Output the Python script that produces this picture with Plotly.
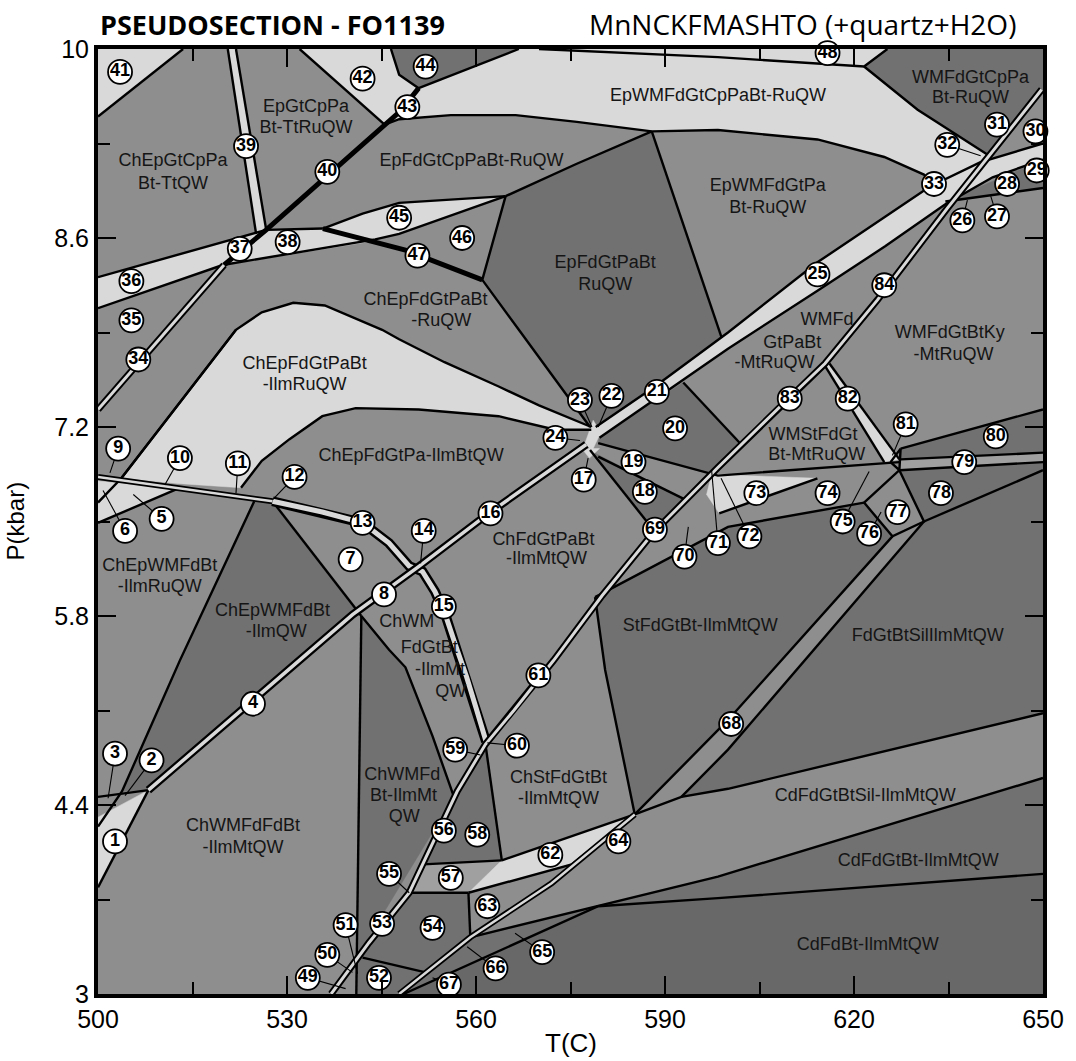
import plotly.graph_objects as go

# ---------------- colours ----------------
LIGHT = "#d9d9d9"
MID = "#8e8e8e"
MID2 = "#a0a0a0"
DARK = "#717171"
DARKER = "#686868"
INK = "#151515"

# ---------------- axes ----------------
x_ticks = [500, 530, 560, 590, 620, 650]
x_minor = [515, 545, 575, 605, 635]
y_ticks = [3.0, 4.4, 5.8, 7.2, 8.6, 10.0]
y_ticktext = ["3", "4.4", "5.8", "7.2", "8.6", "10"]
y_minor = [3.7, 5.1, 6.5, 7.9, 9.3]

# ---------------- dark fields (T, P) ----------------
dark_44 = ([546.5, 566.8, 550.9, 547.8], [10.0, 10.0, 9.71, 9.81])
dark_wmfdgtcppa = ([625.3, 650.0, 650.0, 641.1, 630.1, 621.6], [10.0, 10.0, 9.70, 9.22, 9.55, 9.87])
dark_epfdgtpabt = ([561.0, 564.7, 576.0, 587.9, 599.0, 588.4, 579.0, 578.1], [8.29, 8.91, 9.15, 9.39, 7.86, 7.50, 7.20, 7.20])
dark_chepwmfdbt = ([524.8, 527.7, 541.8, 540.4, 508.0, 503.8], [6.65, 6.65, 5.80, 5.81, 4.51, 4.50])
dark_chwmfd = ([541.8, 546.2, 548.8, 553.1, 556.5, 541.3], [5.80, 5.55, 5.42, 4.91, 4.46, 3.29])
dark_52_54 = ([541.3, 549.4, 558.8, 559.1, 547.8, 541.0], [3.29, 3.75, 3.75, 3.42, 3.0, 3.0])
dark_58 = ([561.5, 564.1, 551.6, 553.1, 557.0], [4.85, 3.99, 3.96, 4.12, 4.50])
dark_20 = ([579.6, 592.9, 602.1, 597.4, 579.4], [7.13, 7.53, 7.07, 6.85, 7.08])
dark_18 = ([578.3, 593.3, 588.3], [7.02, 6.66, 6.43])
dark_stfd = ([578.9, 600.0, 621.6, 626.1, 631.1, 650.0, 650.0, 600.0, 592.6, 585.2, 580.5],
             [5.94, 6.46, 6.64, 6.39, 6.50, 6.88, 5.08, 4.52, 4.46, 4.33, 5.40])
dark_cdfdgtbt = ([547.8, 559.1, 598.4, 650.0, 650.0, 598.4, 579.4, 548.5], [3.0, 3.42, 3.87, 4.60, 3.89, 3.71, 3.65, 3.0])
darker_cdfdbt = ([548.5, 579.4, 598.4, 650.0, 650.0], [3.0, 3.65, 3.71, 3.89, 3.0])
dark_78 = ([627.2, 650.0, 650.0, 631.1], [6.88, 6.94, 6.88, 6.50])
dark_80 = ([627.4, 650.0, 650.0, 627.4], [7.04, 7.33, 7.01, 6.96])
dark_2628 = ([634.5, 650.0, 650.0], [8.87, 8.97, 9.18])

# ---------------- mid fields over dark ----------------
mid_68 = ([585.2, 600.0, 626.1, 631.1, 600.0, 592.6], [4.33, 5.03, 6.39, 6.50, 4.81, 4.46])
mid2_79 = ([627.2, 650.0, 650.0, 627.4], [6.88, 6.94, 7.01, 6.96])
mid2_57 = ([549.4, 551.6, 564.1, 558.8], [3.75, 3.96, 3.99, 3.75])

# ---------------- light fields ----------------
light_41 = ([500.0, 500.0, 513.5], [9.50, 10.0, 10.0])
light_42 = ([532.0, 545.5, 548.0, 550.9, 547.8, 546.5], [10.0, 9.44, 9.54, 9.71, 9.81, 10.0])
light_39 = ([520.6, 521.9, 526.7, 525.1], [10.0, 10.0, 8.66, 8.63])
light_top = ([545.5, 548.0, 550.9, 566.8, 625.3, 621.6, 630.1, 641.1, 634.0, 631.1, 624.8, 614.2, 598.4, 587.9, 576.0, 566.3, 556.0, 547.8],
             [9.44, 9.54, 9.71, 10.0, 10.0, 9.87, 9.55, 9.22, 8.90, 9.07, 9.20, 9.33, 9.40, 9.39, 9.46, 9.51, 9.51, 9.48])
light_38 = ([500.0, 526.7, 535.7, 544.0, 519.8, 500.0], [8.31, 8.66, 8.67, 8.58, 8.40, 8.08])
light_45 = ([535.7, 542.0, 547.8, 564.7, 547.8, 544.0], [8.67, 8.78, 8.86, 8.91, 8.63, 8.59])
big_top_T = [503.7, 521.9, 526.0, 531.0, 536.0, 541.0, 545.1, 547.8, 555.0, 563.6, 570.0, 578.3]
big_top_P = [6.82, 7.92, 8.05, 8.12, 8.10, 8.00, 7.92, 7.85, 7.68, 7.50, 7.36, 7.20]
big_bot_T = [522.7, 526.0, 530.4, 535.6, 540.9, 550.9, 563.6, 572.6, 578.3]
big_bot_P = [6.75, 6.95, 7.11, 7.28, 7.34, 7.33, 7.28, 7.18, 7.18]
light_5 = ([500.0, 512.5, 500.0], [6.49, 6.74, 6.80])
light_1 = ([500.0, 508.0, 500.0], [4.31, 4.51, 3.79])
light_62 = ([558.8, 564.1, 585.2, 575.2], [3.75, 3.99, 4.33, 3.96])
light_73 = ([597.4, 614.2, 598.6, 596.6], [6.85, 6.82, 6.56, 6.70])
light_82 = ([615.3, 616.1, 627.2, 624.8], [7.66, 7.67, 6.96, 6.94])
light_17 = ([576.8, 579.6, 578.0], [7.04, 7.04, 6.97])
light_lens = ([577.3, 578.6, 579.8, 578.4], [7.08, 7.25, 7.16, 7.02])
wide_up_T = [579.0, 588.4, 600.0, 614.2, 625.0, 632.0, 640.0, 650.0]
wide_up_P = [7.20, 7.50, 7.90, 8.42, 8.76, 8.98, 9.16, 9.30]
wide_lo_T = [579.6, 588.8, 600.0, 614.2, 625.0, 634.5, 642.0, 650.0]
wide_lo_P = [7.12, 7.42, 7.78, 8.21, 8.54, 8.85, 9.05, 9.18]

# ---------------- single boundary lines ----------------
bnd_41 = ([500.0, 513.5], [9.50, 10.0])
bnd_42 = ([532.0, 545.5], [10.0, 9.44])
bnd_4244 = ([546.5, 547.8, 550.9], [10.0, 9.81, 9.71])
bnd_44 = ([550.9, 566.8], [9.71, 10.0])
bnd_39a = ([520.6, 525.1], [10.0, 8.63])
bnd_39b = ([521.9, 526.7], [10.0, 8.66])
bnd_38up = ([500.0, 526.7, 535.7], [8.31, 8.66, 8.67])
bnd_38low = ([500.0, 519.8, 544.0, 547.8, 564.7], [8.08, 8.40, 8.59, 8.63, 8.91])
bnd_45up = ([535.7, 542.0, 547.8, 564.7], [8.67, 8.78, 8.86, 8.91])
bnd_toplow = ([545.5, 547.8, 556.0, 566.3, 576.0, 587.9, 598.4, 614.2, 624.8, 631.1, 633.5],
              [9.44, 9.48, 9.51, 9.51, 9.46, 9.39, 9.40, 9.33, 9.20, 9.07, 8.97])
bnd_epfd_ul = ([564.7, 576.0, 587.9], [8.91, 9.15, 9.39])
bnd_epfd_l = ([564.7, 561.0, 566.8, 578.1], [8.91, 8.29, 7.92, 7.20])
bnd_epfd_r = ([587.9, 599.0], [9.39, 7.86])
bnd_48 = ([570.0, 598.4, 621.6, 625.3], [10.0, 9.94, 9.87, 10.0])
bnd_wmfd = ([621.6, 630.1, 641.1], [9.87, 9.55, 9.22])
bnd_big_left = ([500.0, 503.7, 521.9], [6.64, 6.82, 7.92])
bnd_5 = ([500.0, 512.5], [6.49, 6.74])
bnd_dk_left = ([524.8, 513.0, 503.8, 500.0], [6.65, 5.47, 4.50, 4.24])
bnd_dk_right = ([527.7, 541.8], [6.65, 5.80])
bnd_3 = ([500.0, 508.0], [4.46, 4.51])
bnd_1low = ([500.0, 508.0], [3.79, 4.51])
bnd_vert = ([541.8, 541.0], [5.80, 3.0])
bnd_chwm = ([541.8, 546.2, 548.8, 553.1, 556.5], [5.80, 5.55, 5.42, 4.91, 4.46])
bnd_58r = ([561.5, 564.1], [4.85, 3.99])
bnd_57t = ([551.6, 564.1], [3.96, 3.99])
bnd_57b = ([549.4, 558.8], [3.75, 3.75])
bnd_63 = ([558.8, 559.1], [3.75, 3.42])
bnd_62t = ([564.1, 585.2], [3.99, 4.33])
bnd_62b = ([558.8, 575.2, 585.2], [3.75, 3.96, 4.33])
bnd_52 = ([542.0, 552.0], [3.27, 3.16])
bnd_stfd_l = ([578.9, 580.5, 585.2], [5.94, 5.40, 4.33])
bnd_stfd_t = ([578.9, 600.0, 621.6], [5.94, 6.46, 6.64])
bnd_68a = ([585.2, 600.0, 626.1], [4.33, 5.03, 6.39])
bnd_68b = ([592.6, 600.0, 631.1], [4.46, 4.81, 6.50])
bnd_sil_t = ([585.2, 592.6, 600.0, 650.0], [4.33, 4.46, 4.52, 5.08])
bnd_sil_b = ([559.1, 598.4, 650.0], [3.42, 3.87, 4.60])
bnd_cdfdbt = ([548.5, 579.4, 598.4, 650.0], [3.0, 3.65, 3.71, 3.89])
bnd_77 = ([621.6, 626.1, 631.1, 627.2, 621.6], [6.64, 6.39, 6.50, 6.88, 6.64])
bnd_78 = ([631.1, 650.0], [6.50, 6.88])
bnd_79a = ([627.2, 650.0], [6.88, 6.94])
bnd_79b = ([627.4, 650.0], [6.96, 7.01])
bnd_80 = ([627.4, 650.0], [7.04, 7.33])
bnd_81 = ([625.8, 627.4, 627.2, 625.8], [6.94, 7.04, 6.88, 6.94])
bnd_82a = ([615.3, 624.8], [7.66, 6.94])
bnd_82b = ([616.1, 627.2], [7.67, 6.96])
bnd_19 = ([579.4, 598.4, 627.2], [7.08, 6.84, 6.94])
bnd_18t = ([579.4, 593.3], [6.98, 6.66])
bnd_1718 = ([578.1, 588.3], [7.03, 6.43])
bnd_20r = ([592.9, 602.1], [7.53, 7.07])
bnd_73b = ([598.6, 614.2], [6.56, 6.82])
bnd_2628 = ([634.5, 650.0], [8.87, 8.97])

# thick univariant lines
thick_40 = ([520.0, 526.7, 548.0, 550.9], [8.40, 8.66, 9.54, 9.71])
thick_47 = ([535.7, 548.8, 561.0], [8.67, 8.51, 8.29])

# ---------------- narrow (double-line) bands ----------------
band_34 = ([500.0, 520.0], [7.33, 8.40])
band_912 = ([500.0, 527.7], [6.83, 6.65])
band_1315 = ([527.7, 535.6, 542.0, 546.2, 549.4, 551.5, 553.5, 555.2, 557.0, 558.5, 560.0, 561.6],
             [6.65, 6.57, 6.49, 6.34, 6.17, 6.13, 5.98, 5.80, 5.55, 5.35, 5.12, 4.87])
band_a = ([508.0, 540.4, 551.0, 562.0, 577.5], [4.51, 5.81, 6.17, 6.56, 7.07])
band_b = ([537.0, 543.0, 549.4, 553.1, 557.0, 561.5, 566.0, 572.3, 580.0, 588.2, 598.4, 609.8, 615.4, 623.7, 634.8, 649.8],
          [3.0, 3.38, 3.75, 4.12, 4.50, 4.85, 5.10, 5.47, 5.95, 6.42, 6.90, 7.42, 7.67, 8.14, 8.82, 9.70])
band_c = ([547.8, 559.1, 572.0, 585.2], [3.0, 3.42, 3.82, 4.33])

# ---------------- numbered circles ----------------
circle_num = list(range(1, 85))
circle_T = [502.7, 508.5, 502.7, 524.6, 510.1, 504.3, 540.1, 545.4, 503.2, 513.0,
            522.2, 531.2, 542.0, 551.7, 554.9, 562.3, 577.1, 586.8, 585.0, 591.6,
            588.7, 581.5, 576.5, 572.6, 614.2, 637.2, 642.7, 644.3, 649.0, 648.8,
            642.7, 634.8, 632.7, 506.4, 505.3, 505.3, 522.5, 530.1, 523.5, 536.4,
            503.5, 542.0, 549.1, 552.0, 547.8, 557.8, 550.7, 615.8, 533.3, 536.4,
            539.3, 544.6, 545.1, 553.1, 546.2, 554.9, 556.0, 560.2, 556.7, 566.5,
            569.9, 571.8, 561.8, 582.6, 570.5, 563.1, 555.7, 600.5, 588.4, 593.1,
            598.4, 603.4, 604.5, 615.8, 618.2, 622.4, 626.9, 633.8, 637.5, 642.5,
            628.2, 619.0, 609.8, 624.8]
circle_P = [4.13, 4.73, 4.78, 5.15, 6.52, 6.43, 6.22, 5.96, 7.04, 6.97,
            6.93, 6.83, 6.49, 6.43, 5.87, 6.56, 6.81, 6.72, 6.94, 7.19,
            7.46, 7.43, 7.40, 7.12, 8.33, 8.73, 8.76, 9.00, 9.10, 9.39,
            9.44, 9.29, 9.00, 7.70, 7.99, 8.28, 8.52, 8.57, 9.28, 9.09,
            9.83, 9.78, 9.57, 9.87, 8.75, 8.60, 8.47, 9.97, 3.12, 3.29,
            3.51, 3.12, 3.52, 3.49, 3.89, 4.21, 3.86, 4.18, 4.81, 4.84,
            5.36, 4.03, 3.65, 4.13, 3.31, 3.19, 3.07, 5.00, 6.44, 6.24,
            6.34, 6.39, 6.71, 6.71, 6.50, 6.41, 6.57, 6.71, 6.94, 7.13,
            7.22, 7.41, 7.41, 8.25]

# leader lines: circle number -> point it labels
leader_num = [3, 2, 6, 5, 9, 10, 11, 12, 14, 17, 22, 23, 24, 32, 26, 27,
              49, 50, 51, 55, 59, 60, 65, 66, 67, 70, 71, 72, 75, 76, 81]
leader_T = [501.6, 504.3, 500.8, 505.6, 501.9, 510.6, 521.9, 527.7, 551.2, 577.8, 579.4, 578.4, 576.5, 640.1, 638.0, 641.7,
            539.3, 540.4, 541.2, 549.4, 560.7, 561.8, 566.2, 558.6, 553.1, 593.7, 597.4, 598.9, 622.4, 624.3, 626.1]
leader_P = [4.45, 4.47, 6.73, 6.70, 6.86, 6.77, 6.71, 6.66, 6.19, 6.97, 7.20, 7.20, 7.10, 9.21, 8.88, 8.91,
            3.04, 3.16, 3.15, 3.75, 4.77, 4.86, 3.45, 3.35, 3.12, 6.46, 6.88, 6.82, 6.87, 6.57, 6.99]

# ---------------- field labels ----------------
label_text = ["ChEpGtCpPa", "Bt-TtQW", "EpGtCpPa", "Bt-TtRuQW", "EpFdGtCpPaBt-RuQW",
              "EpWMFdGtCpPaBt-RuQW", "WMFdGtCpPa", "Bt-RuQW", "EpWMFdGtPa", "Bt-RuQW",
              "EpFdGtPaBt", "RuQW", "ChEpFdGtPaBt", "-RuQW", "ChEpFdGtPaBt", "-IlmRuQW",
              "ChEpFdGtPa-IlmBtQW", "ChEpWMFdBt", "-IlmRuQW", "ChEpWMFdBt", "-IlmQW",
              "ChWM", "FdGtBt", "-IlmMt", "QW", "ChWMFd", "Bt-IlmMt", "QW",
              "ChWMFdFdBt", "-IlmMtQW", "ChFdGtPaBt", "-IlmMtQW", "ChStFdGtBt", "-IlmMtQW",
              "StFdGtBt-IlmMtQW", "FdGtBtSilIlmMtQW", "CdFdGtBtSil-IlmMtQW", "CdFdGtBt-IlmMtQW",
              "CdFdBt-IlmMtQW", "WMFd", "GtPaBt", "-MtRuQW", "WMFdGtBtKy", "-MtRuQW",
              "WMStFdGt", "Bt-MtRuQW"]
label_T = [511.9, 511.9, 533.0, 533.0, 559.3,
           598.4, 638.5, 638.5, 606.3, 606.3,
           580.5, 580.5, 552.0, 554.5, 532.8, 532.8,
           549.7, 509.8, 509.8, 527.7, 528.3,
           549.0, 552.6, 554.3, 556.0, 548.3, 548.5, 548.6,
           523.0, 523.0, 570.7, 571.2, 573.1, 573.1,
           595.6, 631.7, 621.8, 630.2,
           622.2, 615.7, 610.2, 607.4, 635.2, 635.8,
           613.5, 614.1]
label_P = [9.17, 9.00, 9.57, 9.41, 9.17,
           9.65, 9.78, 9.63, 8.98, 8.82,
           8.41, 8.25, 8.14, 7.98, 7.66, 7.51,
           6.98, 6.17, 6.01, 5.83, 5.68,
           5.75, 5.56, 5.40, 5.23, 4.62, 4.46, 4.31,
           4.24, 4.08, 6.36, 6.22, 4.60, 4.44,
           5.72, 5.65, 4.46, 3.98,
           3.36, 7.99, 7.82, 7.67, 7.89, 7.73,
           7.14, 6.99]

# =====================================================================
fig = go.Figure()


def add_poly(pts, color):
    T, P = pts
    fig.add_trace(go.Scatter(x=list(T) + [T[0]], y=list(P) + [P[0]], mode="lines",
                             fill="toself", fillcolor=color, line=dict(width=0.5, color=color),
                             hoverinfo="skip", showlegend=False))


def add_line(pts, w=2.4, color="black"):
    fig.add_trace(go.Scatter(x=pts[0], y=pts[1], mode="lines",
                             line=dict(width=w, color=color),
                             hoverinfo="skip", showlegend=False))


def add_band(pts, outer=7, inner=3):
    add_line(pts, outer, "black")
    add_line(pts, inner, LIGHT)


for p in [dark_44, dark_wmfdgtcppa, dark_epfdgtpabt, dark_chepwmfdbt, dark_chwmfd,
          dark_52_54, dark_58, dark_20, dark_18, dark_stfd, dark_cdfdgtbt, dark_78,
          dark_80, dark_2628]:
    add_poly(p, DARK)
add_poly(darker_cdfdbt, DARKER)
add_poly(mid_68, MID)
for p in [mid2_79, mid2_57]:
    add_poly(p, MID2)

light_big = (big_top_T + big_bot_T[::-1] + [513.0], big_top_P + big_bot_P[::-1] + [6.78])
light_wide = (wide_up_T + wide_lo_T[::-1], wide_up_P + wide_lo_P[::-1])
for p in [light_41, light_42, light_39, light_top, light_38, light_45, light_big, light_5,
          light_1, light_62, light_73, light_82, light_17, light_lens, light_wide]:
    add_poly(p, LIGHT)

for b in [bnd_41, bnd_42, bnd_4244, bnd_44, bnd_39a, bnd_39b, bnd_38up, bnd_38low, bnd_45up,
          bnd_toplow, bnd_epfd_ul, bnd_epfd_l, bnd_epfd_r, bnd_48, bnd_wmfd, bnd_big_left,
          (big_top_T, big_top_P), (big_bot_T, big_bot_P), bnd_5, bnd_dk_left, bnd_dk_right,
          bnd_3, bnd_1low, bnd_vert, bnd_chwm, bnd_58r, bnd_57t, bnd_57b, bnd_63, bnd_62t,
          bnd_62b, bnd_52, bnd_stfd_l, bnd_stfd_t, bnd_68a, bnd_68b, bnd_sil_t, bnd_sil_b,
          bnd_cdfdbt, bnd_77, bnd_78, bnd_79a, bnd_79b, bnd_80, bnd_81, bnd_82a, bnd_82b,
          bnd_19, bnd_18t, bnd_1718, bnd_20r, bnd_73b, bnd_2628,
          (wide_up_T, wide_up_P), (wide_lo_T, wide_lo_P)]:
    add_line(b)

add_line(thick_40, 5)
add_line(thick_47, 5)

add_band(band_34, 7, 3)
add_band(band_912, 6, 2.5)
add_band(band_1315, 10, 5)
add_band(band_a, 8, 3.5)
add_band(band_b, 7, 3)
add_band(band_c, 6, 2.5)

# leaders
for n, lt, lp in zip(leader_num, leader_T, leader_P):
    i = circle_num.index(n)
    add_line(([circle_T[i], lt], [circle_P[i], lp]), 1.1)

# circles
fig.add_trace(go.Scatter(
    x=circle_T, y=circle_P, mode="markers+text", text=[str(n) for n in circle_num],
    textposition="middle center",
    marker=dict(size=24, color="white", line=dict(width=1.8, color="black")),
    textfont=dict(family="Liberation Sans Narrow, Liberation Sans, Arial", size=18, color="black", weight="bold"),
    hoverinfo="skip", showlegend=False, cliponaxis=False))

# field labels
fig.add_trace(go.Scatter(
    x=label_T, y=label_P, mode="text", text=label_text, textposition="middle center",
    textfont=dict(family="Liberation Sans, Arial", size=18, color=INK),
    hoverinfo="skip", showlegend=False))

axis_font = dict(family="Liberation Sans, Arial", size=25, color="black")
fig.update_xaxes(range=[500, 650], tickvals=x_ticks, ticks="inside", ticklen=18, tickwidth=2,
                 tickcolor="black", showline=True, linewidth=4, linecolor="black", mirror="ticks",
                 showgrid=False, zeroline=False, tickfont=axis_font,
                 minor=dict(tickvals=x_minor, ticks="inside", ticklen=12, tickwidth=2,
                            tickcolor="black", showgrid=False))
fig.update_yaxes(range=[3, 10], tickvals=y_ticks, ticktext=y_ticktext, ticks="inside", ticklen=18,
                 tickwidth=2, tickcolor="black", showline=True, linewidth=4, linecolor="black",
                 mirror="ticks", showgrid=False, zeroline=False, tickfont=axis_font,
                 minor=dict(tickvals=y_minor, ticks="inside", ticklen=12, tickwidth=2,
                            tickcolor="black", showgrid=False))

fig.update_layout(
    width=1076, height=1061, margin=dict(l=98, r=31, t=49, b=67),
    paper_bgcolor="white", plot_bgcolor=MID, showlegend=False,
    annotations=[
        dict(text="<b>PSEUDOSECTION - FO1139</b>", xref="paper", yref="paper", x=0, y=1,
             yshift=25, xanchor="left", yanchor="middle", showarrow=False,
             font=dict(family="Open Sans", size=27, color="black")),
        dict(text="MnNCKFMASHTO (+quartz+H2O)", xref="paper", yref="paper", x=1, y=1,
             xshift=-25, yshift=25, xanchor="right", yanchor="middle", showarrow=False,
             font=dict(family="Open Sans", size=28, color="black")),
        dict(text="T(C)", xref="paper", yref="paper", x=0.5, y=0, yshift=-49,
             xanchor="center", yanchor="middle", showarrow=False,
             font=dict(family="Liberation Sans, Arial", size=26, color="black")),
        dict(text="P(kbar)", xref="paper", yref="paper", x=0, y=0.5, xshift=-83,
             xanchor="center", yanchor="middle", textangle=-90, showarrow=False,
             font=dict(family="Liberation Sans, Arial", size=24, color="black")),
    ],
)

fig.write_html("out.html")
